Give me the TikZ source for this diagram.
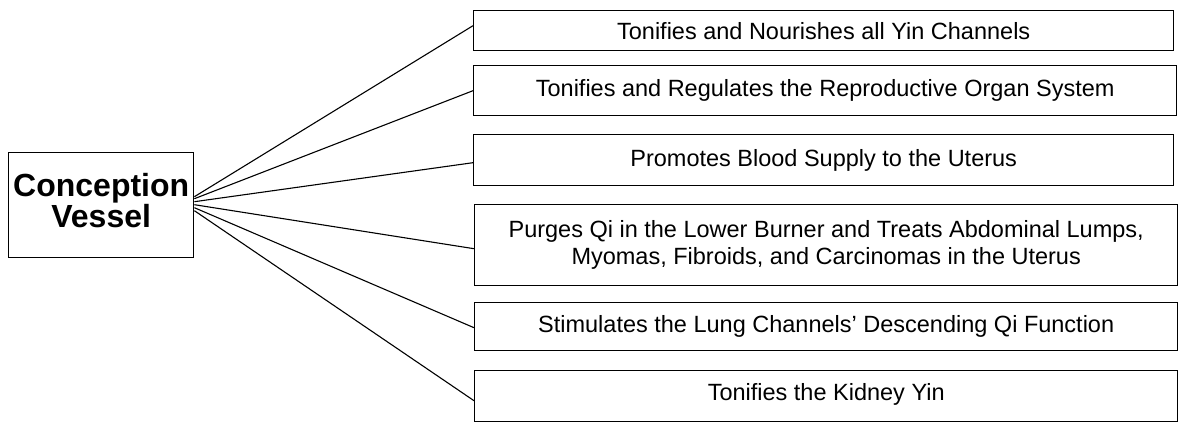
\documentclass[tikz,border=0pt]{standalone}
\usepackage{fontspec}
\setmainfont{Liberation Sans}
\begin{document}
\begin{tikzpicture}[x=1pt,y=-1pt,
  effect/.style={draw=black, line width=1.4pt, rectangle, inner sep=0pt,
    anchor=north west, align=center,
    font=\fontsize{23.5}{27}\selectfont},
  source/.style={draw=black, line width=1.4pt, rectangle, inner sep=0pt,
    anchor=north west},
  sourcetext/.style={inner sep=0pt, align=center,
    font=\fontsize{32}{28}\selectfont\bfseries},
  link/.style={draw=black, line width=1.1pt}]
\useasboundingbox (0,0) rectangle (1178,422);
% central vessel box and its title
\node[source, minimum width=185pt, minimum height=105pt] (cv) at (8,152) {};
\node[sourcetext] (cvtitle) at ([yshift=5pt]cv.center) {Conception\\Vessel};
% effect boxes
\node[effect, minimum width=700pt, minimum height=40pt] (b1) at (473,10)
  {Tonifies and Nourishes all Yin Channels};
\node[effect, minimum width=703pt, minimum height=50pt] (b2) at (473,65)
  {Tonifies and Regulates the Reproductive Organ System};
\node[effect, minimum width=700pt, minimum height=51pt] (b3) at (473,134)
  {Promotes Blood Supply to the Uterus};
\node[effect, minimum width=703pt, minimum height=81pt] (b4) at (474,204)
  {Purges Qi in the Lower Burner and Treats Abdominal Lumps,\\
   Myomas, Fibroids, and Carcinomas in the Uterus};
\node[effect, minimum width=703pt, minimum height=48pt] (b5) at (474,302)
  {Stimulates the Lung Channels' Descending Qi Function};
\node[effect, minimum width=703pt, minimum height=51pt] (b6) at (474,370)
  {\raisebox{8pt}{Tonifies the Kidney Yin}};
% connectors fanning out from the vessel box
\draw[link] ([yshift=8.5pt]cv.east) -- ([yshift=5pt]b1.west);
\draw[link] ([yshift=6.5pt]cv.east) -- (b2.west);
\draw[link] ([yshift=3.5pt]cv.east) -- ([yshift=-2.5pt]b3.west);
\draw[link] ([yshift=0.5pt]cv.east) -- ([yshift=-3.5pt]b4.west);
\draw[link] ([yshift=-2.5pt]cv.east) -- ([yshift=-1pt]b5.west);
\draw[link] ([yshift=-5.5pt]cv.east) -- ([yshift=-4.5pt]b6.west);
\end{tikzpicture}
\end{document}
